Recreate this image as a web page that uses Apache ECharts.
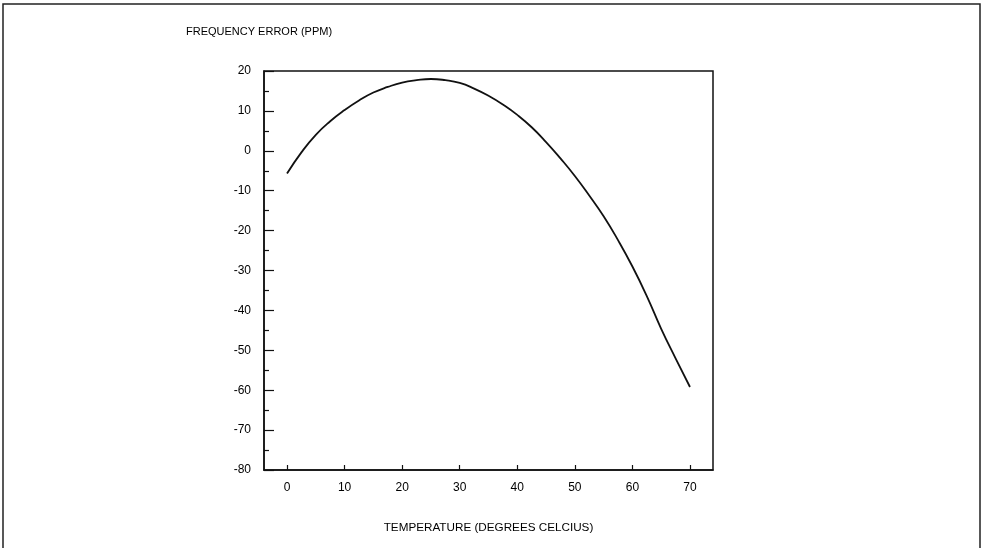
<!DOCTYPE html>
<html>
<head>
<meta charset="utf-8">
<script src="https://cdn.jsdelivr.net/npm/echarts@6/dist/echarts.min.js"></script>
<style>
  html, body { margin: 0; padding: 0; background: #fff; }
  #chart { width: 982px; height: 548px; }
</style>
</head>
<body>
<div id="chart"></div>
<script>
// temperature (deg C) vs frequency error (ppm)
const temps = [0, 2.5, 5, 7.5, 10, 12.5, 15, 17.5, 20, 22.5, 25, 27.5, 30, 32.5, 35,
    37.5, 40, 42.5, 45, 47.5, 50, 52.5, 55, 57.5, 60, 62.5, 65, 67.5, 70];
const ppmError = [-5.7, -0.4, 4.0, 7.4, 10.2, 12.6, 14.6, 16.0, 17.1, 17.7, 18.0, 17.7, 17.0, 15.6, 13.8,
    11.6, 9.0, 5.9, 2.2, -1.9, -6.3, -11.2, -16.4, -22.4, -29.0, -36.4, -44.6, -52.0, -59.2];
const xTickValues = [0, 10, 20, 30, 40, 50, 60, 70];

const FONT = '"Liberation Sans", Arial, sans-serif';

const chart = echarts.init(document.getElementById('chart'));

const option = {
    animation: false,
    backgroundColor: '#fff',
    title: {
        text: 'FREQUENCY ERROR (PPM)',
        left: 181,
        top: 21,
        textStyle: { fontFamily: FONT, fontSize: 11, fontWeight: 'normal', color: '#000' }
    },
    grid: {
        left: 264, right: 269, top: 71, bottom: 78,
        show: true, borderColor: '#111', borderWidth: 1.5, backgroundColor: 'transparent'
    },
    xAxis: {
        type: 'value',
        min: -4, max: 74,
        name: 'TEMPERATURE (DEGREES CELCIUS)',
        nameLocation: 'middle',
        nameGap: 52,
        nameTextStyle: { fontFamily: FONT, fontSize: 11.7, color: '#000' },
        axisLine: { show: true, onZero: false, lineStyle: { color: '#111', width: 1.5 } },
        axisTick: { show: true, inside: true, length: 5, customValues: xTickValues, lineStyle: { color: '#111', width: 1.2 } },
        axisLabel: { customValues: xTickValues, margin: 12, fontFamily: FONT, fontSize: 12, color: '#000' },
        splitLine: { show: false }
    },
    yAxis: {
        type: 'value',
        min: -80, max: 20, interval: 10,
        axisLine: { show: true, onZero: false, lineStyle: { color: '#111', width: 1.5 } },
        axisTick: { show: true, inside: true, length: 10, lineStyle: { color: '#111', width: 1.2 } },
        minorTick: { show: true, splitNumber: 2, length: 5, lineStyle: { color: '#111', width: 1.2 } },
        axisLabel: { margin: 13, fontFamily: FONT, fontSize: 12, color: '#000' },
        splitLine: { show: false }
    },
    series: [{
        type: 'line',
        data: temps.map((t, i) => [t, ppmError[i]]),
        smooth: 0.5,
        showSymbol: false,
        lineStyle: { color: '#111', width: 1.8 }
    }],
    graphic: [{
        type: 'rect',
        shape: { x: 3, y: 4, width: 977, height: 560 },
        style: { fill: 'none', stroke: '#222', lineWidth: 1.5 },
        silent: true
    }]
};

chart.setOption(option);
</script>
</body>
</html>
